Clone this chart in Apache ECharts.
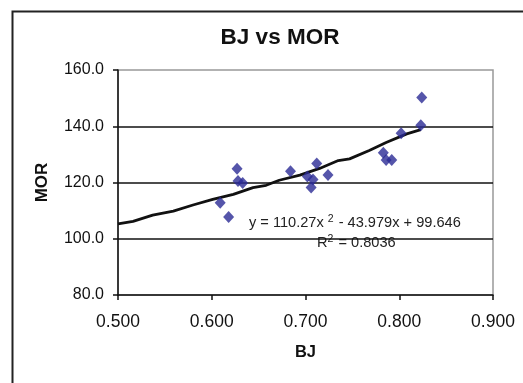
<!DOCTYPE html>
<html><head><meta charset="utf-8">
<script src="https://cdn.jsdelivr.net/npm/echarts@6/dist/echarts.min.js"></script>
<style>html,body{margin:0;padding:0;background:#fff}#c{width:523px;height:383px}</style>
</head><body><div id="c"></div>
<script>
const bjValues = [0.609,0.618,0.627,0.628,0.633,0.684,0.702,0.708,0.706,0.712,0.724,0.783,0.786,0.792,0.802,0.823,0.824];
const morValues = [112.8,107.7,124.9,120.5,119.8,124.0,122.1,121.1,118.2,126.8,122.7,130.6,128.0,128.0,137.5,140.4,150.2];
const trendX = [0.500,0.516,0.537,0.559,0.580,0.601,0.623,0.644,0.658,0.672,0.694,0.715,0.735,0.747,0.768,0.786,0.808,0.823];
const trendY = [105.3,106.2,108.4,109.8,112.0,114.0,115.8,118.2,119.0,120.8,122.6,125.0,127.8,128.4,131.4,134.2,137.3,138.8];
const xTicks = [0.5,0.6,0.7,0.8,0.9];
const yTicks = [80,100,120,140,160];
const titleText = 'BJ vs MOR';
const eqText = 'y = 110.27x{s|2} - 43.979x + 99.646';
const r2Text = 'R{s|2} = 0.8036';

const chart = echarts.init(document.getElementById('c'), null, {renderer:'canvas'});
const font = 'Liberation Sans, Arial, sans-serif';
chart.setOption({
  animation:false,
  textStyle:{fontFamily:font},
  title:{text:titleText,left:275,top:21,textAlign:'center',textStyle:{fontSize:22.5,fontWeight:'bold',color:'#111',fontFamily:font}},
  grid:{left:118,top:70,width:375,height:225,show:true,borderColor:'#999',borderWidth:1.5,backgroundColor:'transparent'},
  xAxis:{type:'value',min:0.5,max:0.9,interval:0.1,name:'BJ',nameLocation:'middle',nameGap:49,
    nameTextStyle:{fontSize:16.5,fontWeight:'bold',color:'#111',fontFamily:font},
    axisLine:{show:true,onZero:false,lineStyle:{color:'#111',width:1.5}},
    axisTick:{show:true,inside:false,length:5,lineStyle:{color:'#111',width:1.5}},
    axisLabel:{fontSize:17.5,color:'#111',margin:18,formatter:v=>v.toFixed(3),fontFamily:font},
    splitLine:{show:false}},
  yAxis:{type:'value',min:80,max:160,interval:20,name:'MOR',nameLocation:'middle',nameGap:67,nameRotate:90,
    nameTextStyle:{fontSize:17,fontWeight:'bold',color:'#111',fontFamily:font},
    axisLine:{show:true,onZero:false,lineStyle:{color:'#111',width:1.5}},
    axisTick:{show:true,inside:false,length:5,lineStyle:{color:'#111',width:1.5}},
    axisLabel:{fontSize:16,color:'#111',margin:14,formatter:v=>v.toFixed(1),fontFamily:font},
    splitLine:{show:true,showMinLine:false,showMaxLine:false,lineStyle:{color:'#111',width:1.5}}},
  series:[
    {type:'line',data:trendX.map((x,i)=>[x,trendY[i]]),showSymbol:false,symbol:'none',smooth:false,
      lineStyle:{color:'#111',width:2.8},z:2},
    {type:'scatter',data:bjValues.map((x,i)=>[x,morValues[i]]),symbol:'diamond',symbolSize:[11,12],
      itemStyle:{color:'#2b2b95'},z:3}
  ],
  graphic:[
    {type:'rect',left:10,top:9,shape:{width:700,height:600},style:{fill:'none',stroke:'#222',lineWidth:2},silent:true},
    {type:'text',left:249,top:214,style:{text:eqText,font:'14.6px '+font,fill:'#222',
      rich:{s:{fontSize:10.5,verticalAlign:'top',padding:[0,1,7,4]}}}},
    {type:'text',left:317,top:234,style:{text:r2Text,font:'14.6px '+font,fill:'#222',
      rich:{s:{fontSize:10.5,verticalAlign:'top',padding:[0,1,7,0]}}}}
  ]
});
</script></body></html>
